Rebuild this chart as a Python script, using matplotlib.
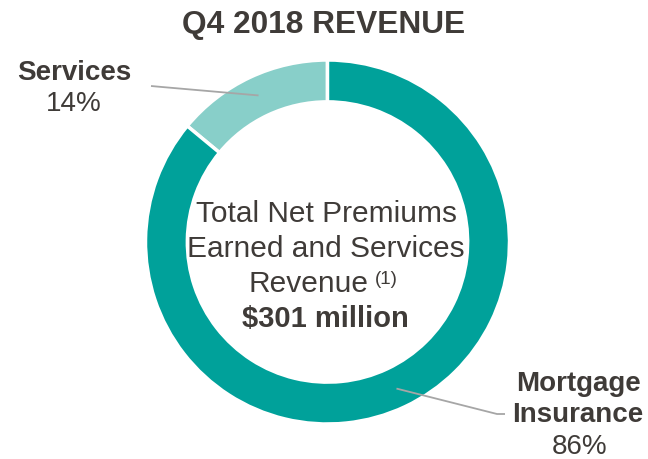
import matplotlib
matplotlib.use("Agg")
import matplotlib.pyplot as plt
import numpy as np

plt.rcParams['font.family'] = ['Liberation Sans', 'DejaVu Sans']

# data
segments = ["Services", "Mortgage\nInsurance"]
shares = [14, 86]
colors = ["#88CFC9", "#00A19A"]
title = "Q4 2018 REVENUE"
center_lines = ["Total Net Premiums", "Earned and Services"]
total_label = "$301 million"

txt = "#3F3B38"
W, H = 648, 460
cx, cy, R = 327.5, 243, 182.0

fig = plt.figure(figsize=(W / 100, H / 100), dpi=100)
ax = fig.add_axes([0, 0, 1, 1])
ax.axis("off")

wedges, _ = ax.pie(shares, colors=colors, startangle=90, counterclock=True,
                   radius=1.0, wedgeprops=dict(width=0.23, edgecolor="white", linewidth=2.5))
ax.set_xlim(-cx / R, (W - cx) / R)
ax.set_ylim(-(H - cy) / R, cy / R)
ax.set_aspect("equal")


def px(x, y):
    return (x - cx) / R, (cy - y) / R


# leader lines from mid-angle of each wedge
elbows = [[px(162, 88), px(151, 87)], [px(497, 415), px(505, 415)]]
for w, pts in zip(wedges, elbows):
    ang = np.deg2rad((w.theta1 + w.theta2) / 2)
    r = 0.89
    xs = [r * np.cos(ang)] + [p[0] for p in pts]
    ys = [r * np.sin(ang)] + [p[1] for p in pts]
    ax.plot(xs, ys, color="#A6A6A6", lw=1.3, solid_capstyle="butt")

# segment labels
x, y = px(74, 73)
ax.text(x, y, segments[0], ha="center", va="center", fontsize=20, fontweight="bold", color=txt)
x, y = px(74, 104)
ax.text(x, y, f"{shares[0]}%", ha="center", va="center", fontsize=20, color=txt)

x, y = px(578, 384)
ax.text(x, y, segments[1].split("\n")[0], ha="center", va="center", fontsize=20, fontweight="bold", color=txt)
x, y = px(578, 415)
ax.text(x, y, segments[1].split("\n")[1], ha="center", va="center", fontsize=20, fontweight="bold", color=txt)
x, y = px(580, 447)
ax.text(x, y, f"{shares[1]}%", ha="center", va="center", fontsize=20, color=txt)

# center text
for line, ypx in zip(center_lines, [214, 249]):
    x, y = px(326, ypx)
    ax.text(x, y, line, ha="center", va="center", fontsize=21.5, color=txt)
x, y = px(308, 284)
ax.text(x, y, "Revenue", ha="center", va="center", fontsize=21.5, color=txt)
x, y = px(375, 280)
ax.text(x, y, "(1)", ha="left", va="center", fontsize=13.5, color=txt)
x, y = px(325, 319)
ax.text(x, y, total_label, ha="center", va="center", fontsize=21, fontweight="bold", color=txt)

fig.text(324 / W, 1 - 25 / H, title, ha="center", va="center", fontsize=22.8, fontweight="bold", color=txt)

fig.savefig("out.png", dpi=100)
